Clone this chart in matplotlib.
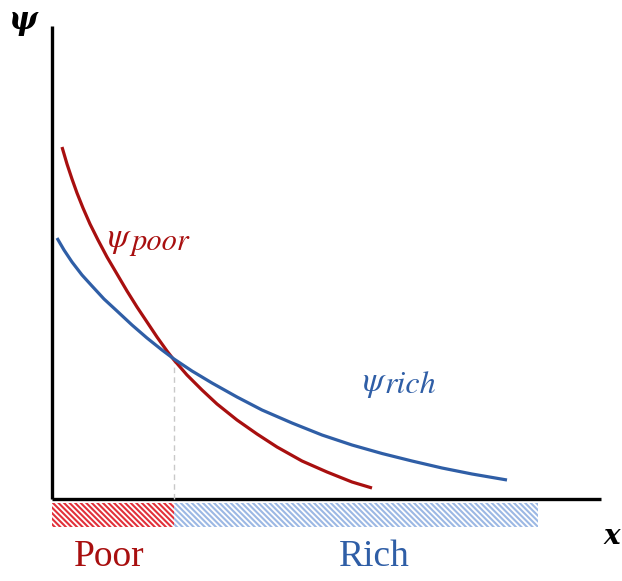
import matplotlib
matplotlib.use("Agg")
import matplotlib.pyplot as plt
from matplotlib.patches import Rectangle

# --- data (origin = axis corner) ---
poor_x = [10, 15, 20, 25, 31, 38, 46, 55, 65, 75, 85, 95, 105, 115, 122,
          135, 150, 165, 185, 205, 225, 250, 275, 300, 320]
poor_y = [352, 335, 320, 306, 291, 275, 259, 242, 225, 208, 192, 177, 162, 148, 139,
          124, 109, 95, 79, 65, 52, 38, 27, 17, 11]
rich_x = [5, 12, 20, 30, 40, 52, 65, 80, 95, 110, 122, 140, 160, 185, 210,
          240, 270, 300, 330, 360, 390, 420, 455]
rich_y = [261, 249, 237, 224, 213, 200, 188, 174, 161, 149, 140, 128, 116, 102, 89,
          76, 64, 54, 45.5, 38, 31, 25, 19]
cross_x = 122
cross_y = 140
band_end = 486
x_axis_end = 549
y_axis_end = 473

RED = "#A80F0F"
BLUE = "#2F5EA6"

plt.rcParams['mathtext.fontset'] = 'stix'
plt.rcParams['hatch.linewidth'] = 1.5

fig = plt.figure(figsize=(6.22, 5.81), dpi=100)
ax = fig.add_axes([0, 0, 1, 1])
ax.set_xlim(-52, 570)
ax.set_ylim(-82, 499)
ax.axis('off')

# axes lines
ax.plot([0, 0], [0, y_axis_end], color='black', lw=2.4, solid_capstyle='butt')
ax.plot([0, x_axis_end], [0, 0], color='black', lw=2.4, solid_capstyle='butt')

# dashed guide
ax.plot([cross_x, cross_x], [0, cross_y], color='#C8C8C8', lw=1.0, ls=(0, (4, 3)))

# curves
ax.plot(poor_x, poor_y, color=RED, lw=2.3, solid_capstyle='butt')
ax.plot(rich_x, rich_y, color=BLUE, lw=2.3, solid_capstyle='butt')

# hatched bands
ax.add_patch(Rectangle((0, -28), cross_x, 24, facecolor='white',
                       edgecolor='#E2303A', hatch='\\' * 6, lw=0))
ax.add_patch(Rectangle((cross_x, -28), band_end - cross_x, 24, facecolor='white',
                       edgecolor='#9CB8E4', hatch='\\' * 6, lw=0))

# texts
ax.text(-30, 478, 'ψ', fontsize=22, fontweight='bold', fontstyle='italic',
        family='DejaVu Serif', ha='center', va='center')
ax.text(560, -37, 'x', fontsize=20, fontweight='bold', fontstyle='italic',
        family='DejaVu Serif', ha='center', va='center')
ax.text(57, -58, 'Poor', fontsize=27, color=RED, family='Liberation Serif',
        ha='center', va='center')
ax.text(322, -58, 'Rich', fontsize=27, color=BLUE, family='Liberation Serif',
        ha='center', va='center')

# curve labels: psi + italic subscript
ax.text(55, 252, r'$\psi$', fontsize=25, color=RED, ha='left', va='baseline')
ax.text(79, 249, 'poor', fontsize=22, color=RED, fontstyle='italic',
        family='STIXGeneral', ha='left', va='baseline')
ax.text(310, 108, r'$\psi$', fontsize=25, color=BLUE, ha='left', va='baseline')
ax.text(333, 106, 'rich', fontsize=23, color=BLUE, fontstyle='italic',
        family='STIXGeneral', ha='left', va='baseline')

fig.savefig('out.png', dpi=100)
